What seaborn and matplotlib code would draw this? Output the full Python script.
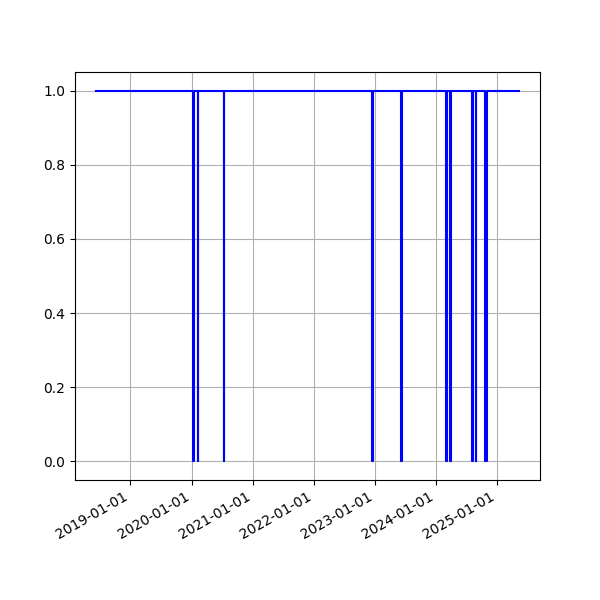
import matplotlib
matplotlib.use("Agg")
import matplotlib.pyplot as plt
import matplotlib.dates as mdates
import pandas as pd
import seaborn as sns

# Availability series: 1 = up, 0 = down (dips listed as down/up pairs)
dates = [
    "2018-06-10",
    "2020-01-11", "2020-01-11", "2020-01-16", "2020-01-16",
    "2020-02-08", "2020-02-08", "2020-02-11", "2020-02-11",
    "2020-07-14", "2020-07-14", "2020-07-15", "2020-07-15",
    "2022-12-16", "2022-12-16", "2022-12-19", "2022-12-19",
    "2023-06-07", "2023-06-07", "2023-06-09", "2023-06-09",
    "2024-02-28", "2024-02-28", "2024-03-04", "2024-03-04",
    "2024-03-26", "2024-03-26", "2024-03-30", "2024-03-30",
    "2024-08-01", "2024-08-01", "2024-08-06", "2024-08-06",
    "2024-08-24", "2024-08-24", "2024-08-28", "2024-08-28",
    "2024-10-22", "2024-10-22", "2024-11-03", "2024-11-03",
    "2025-05-10",
]
values = [
    1,
    1, 0, 0, 1,
    1, 0, 0, 1,
    1, 0, 0, 1,
    1, 0, 0, 1,
    1, 0, 0, 1,
    1, 0, 0, 1,
    1, 0, 0, 1,
    1, 0, 0, 1,
    1, 0, 0, 1,
    1, 0, 0, 1,
    1,
]

df = pd.DataFrame({"date": pd.to_datetime(dates), "value": values})

fig, ax = plt.subplots(figsize=(6, 6), dpi=100)
sns.lineplot(data=df, x="date", y="value", estimator=None, sort=False,
             color="blue", linewidth=1.5, ax=ax)
ax.set_xlabel("")
ax.set_ylabel("")
ax.grid(True)
ax.xaxis.set_major_locator(mdates.YearLocator())
ax.xaxis.set_major_formatter(mdates.DateFormatter("%Y-%m-%d"))
ax.set_yticks([0.0, 0.2, 0.4, 0.6, 0.8, 1.0])
fig.autofmt_xdate()
fig.savefig("out.png", dpi=100)
